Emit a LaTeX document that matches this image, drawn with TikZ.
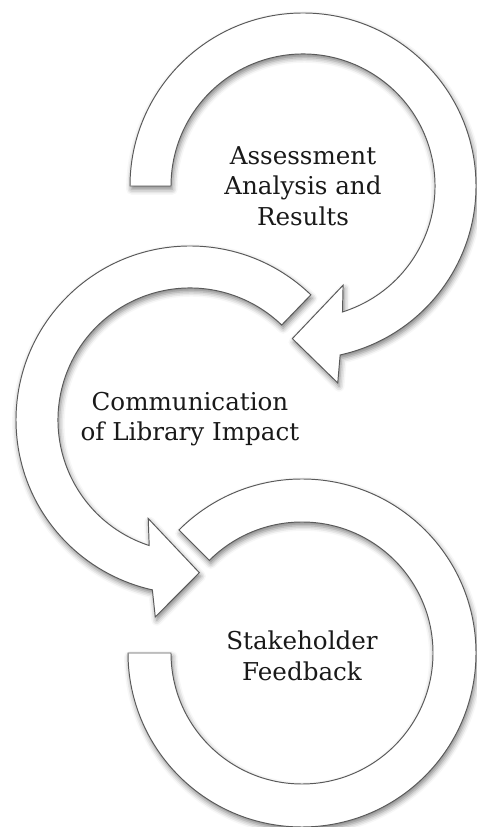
\documentclass[tikz,border=0pt]{standalone}
\usepackage{fontspec}
\setmainfont{DejaVu Serif}
\usetikzlibrary{calc,shadows.blur}

\begin{document}
\begin{tikzpicture}[x=0.02cm, y=0.02cm,
    ring/.style={draw=black!65, line width=0.55pt, fill=white, line join=miter,
      blur shadow={shadow xshift=0.8pt, shadow yshift=-2pt,
        shadow blur radius=3pt, shadow opacity=50}},
    every node/.style={align=center, text=black!90,
      font=\fontsize{14}{17.5}\selectfont}]
  \useasboundingbox (0,0) rectangle (476,827);

  \coordinate (t) at (303,641);
  \coordinate (m) at (190,407);
  \coordinate (b) at (302,174);

  % top loop, clockwise
  \draw[ring] ($(t)+(180:173)$) arc[start angle=180, end angle=-77.6, radius=173]
    -- ($(t)+(-80:200)$) -- ($(t)+(-94:153)$) -- ($(t)+(-68:107)$)
    -- ($(t)+(-72.6:132)$) arc[start angle=-72.6, end angle=180, radius=132] -- cycle;

  % middle loop, counter clockwise
  \draw[ring] ($(m)+(46:174)$) arc[start angle=46, end angle=257.5, radius=174]
    -- ($(m)+(260:200)$) -- ($(m)+(273.5:153)$) -- ($(m)+(247:107)$)
    -- ($(m)+(252:132)$) arc[start angle=252, end angle=46, radius=132] -- cycle;

  % bottom loop, no head
  \draw[ring] ($(b)+(135:174)$) arc[start angle=135, end angle=-180, radius=174]
    -- ($(b)+(180:131)$) arc[start angle=-180, end angle=135, radius=131] -- cycle;

  \node (assess) at (t) {Assessment\\Analysis and\\Results};
  \node (comm) at ($(m)+(0,1)$) {Communication\\of Library Impact};
  \node (stake) at ($(b)+(0,-3)$) {Stakeholder\\Feedback};
\end{tikzpicture}
\end{document}
